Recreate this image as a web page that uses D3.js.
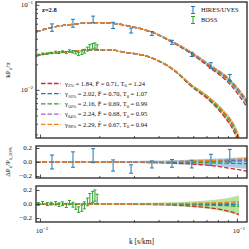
<!DOCTYPE html>
<html>
<head>
<meta charset="utf-8">
<script src="https://cdn.jsdelivr.net/npm/d3@7"></script>
<style>
  body { margin: 0; background: #fff; }
  svg text { font-family: "Liberation Serif", "DejaVu Serif", serif; fill: #111; }
</style>
</head>
<body>
<div id="chart"></div>
<script>
/* model curves, k in s/km */
const kHi = [0.00954, 0.01151, 0.01471, 0.01858, 0.02349, 0.02897, 0.03705, 0.04677, 0.0591, 0.07385, 0.0922, 0.1125];
const pHi = [0.0481, 0.0543, 0.0590, 0.0619, 0.0605, 0.0556, 0.0478, 0.0370, 0.0270, 0.0188, 0.0128, 0.00723];
const kLo = [0.00954, 0.01124, 0.0142, 0.01794, 0.02265, 0.02668, 0.03572, 0.04786, 0.05842, 0.0730, 0.0869, 0.0955, 0.1024];
const pLo = [0.0251, 0.0270, 0.0282, 0.0296, 0.0296, 0.0278, 0.0245, 0.0172, 0.01146, 0.00783, 0.00522, 0.00388, 0.00272];

// relative offsets of each model from the reference curve
const hiResRed    = [0, 0, 0, 0, 0, -0.003, -0.008, -0.015, -0.03, -0.05, -0.09, -0.13];
const hiResBlue   = [0, 0, 0, 0, 0, 0, 0.002, 0.005, 0.01, 0.015, 0.022, 0.03];
const hiResGreen  = [0, 0, 0, 0, 0, 0, -0.002, -0.004, -0.008, -0.012, -0.018, -0.025];
const hiResPurple = [0, 0, 0, 0, 0, 0, 0.001, 0.002, 0.004, 0.008, 0.012, 0.015];
const hiResOrange = [0, 0, 0, 0, 0, 0.002, 0.004, 0.008, 0.014, 0.022, 0.035, 0.05];
const hiBandUp = [0.005, 0.006, 0.008, 0.01, 0.012, 0.015, 0.02, 0.025, 0.035, 0.045, 0.058, 0.07];
const hiBandLo = [-0.005, -0.006, -0.008, -0.01, -0.012, -0.015, -0.02, -0.028, -0.04, -0.055, -0.075, -0.1];

const loResRed    = [0, 0, 0, 0, 0, -0.002, -0.006, -0.015, -0.03, -0.055, -0.09, -0.12, -0.15];
const loResBlue   = [0, 0, 0, 0, 0, 0, 0, -0.002, -0.004, -0.006, -0.008, -0.01, -0.012];
const loResGreen  = [0, 0, 0, 0, 0, 0, -0.002, -0.005, -0.01, -0.016, -0.024, -0.03, -0.036];
const loResPurple = [0, 0, 0, 0, 0, 0, 0.001, 0.002, 0.004, 0.006, 0.01, 0.012, 0.014];
const loResOrange = [0, 0, 0, 0, 0, 0, 0.002, 0.005, 0.01, 0.015, 0.022, 0.03, 0.035];
const loBandUp = [0.005, 0.006, 0.008, 0.01, 0.012, 0.014, 0.018, 0.025, 0.035, 0.055, 0.08, 0.1, 0.12];
const loBandLo = [-0.005, -0.006, -0.008, -0.01, -0.012, -0.014, -0.02, -0.03, -0.045, -0.07, -0.11, -0.14, -0.17];

/* data */
const hiresK = [0.0115, 0.0147, 0.0186, 0.0235, 0.029, 0.037, 0.0468, 0.059, 0.0738, 0.092];
const hiresP = [0.0543, 0.0611, 0.0675, 0.0575, 0.0500, 0.0461, 0.0363, 0.0262, 0.0194, 0.0140];
const hiresErr = [0.0054, 0.0065, 0.0062, 0.0048, 0.0033, 0.0024, 0.0020, 0.0015, 0.0015, 0.0012];
const hiresRes = [0.0, 0.035, 0.09, -0.05, -0.1, -0.035, -0.02, -0.03, 0.03, 0.09];
const hiresResErr = [0.1, 0.11, 0.1, 0.08, 0.06, 0.05, 0.055, 0.055, 0.08, 0.09];

const bossK = [0.0098, 0.0103, 0.0109, 0.0114, 0.0120, 0.0125, 0.0130, 0.0136, 0.0141, 0.0147, 0.0152, 0.0157, 0.0163, 0.0168, 0.0174, 0.0179, 0.0185, 0.0190, 0.0195];
const bossP = [0.0258, 0.0266, 0.0267, 0.0272, 0.0278, 0.0275, 0.0281, 0.0275, 0.0288, 0.0281, 0.0275, 0.0265, 0.0273, 0.0285, 0.0302, 0.0320, 0.0326, 0.0333, 0.0318];
const bossErr = [0.0005, 0.0005, 0.0005, 0.0005, 0.0007, 0.0007, 0.0007, 0.0008, 0.0008, 0.0010, 0.0010, 0.0012, 0.0013, 0.0015, 0.0016, 0.0021, 0.0024, 0.0024, 0.0021];
const bossRes = [0.0, 0.015, 0.0, 0.005, 0.01, -0.01, 0.005, -0.02, 0.02, -0.01, -0.04, -0.08, -0.06, -0.02, 0.03, 0.08, 0.1, 0.12, 0.07];
const bossResErr = [0.02, 0.02, 0.02, 0.02, 0.025, 0.025, 0.025, 0.03, 0.03, 0.035, 0.035, 0.04, 0.045, 0.05, 0.055, 0.07, 0.08, 0.08, 0.07];

/* legend */
const modelColors = ["#d62728", "#1f77b4", "#2ca02c", "#9467bd", "#ff7f0e"];
const gammaSub = ["2%", "16%", "50%", "84%", "98%"];
const gammaVal = ["1.84", "2.02", "2.16", "2.24", "2.29"];
const fbarVal = ["0.71", "0.70", "0.69", "0.68", "0.67"];
const t0Val = ["1.24", "1.07", "0.99", "0.95", "0.94"];

const hiRes = [hiResRed, hiResBlue, hiResGreen, hiResPurple, hiResOrange];
const loRes = [loResRed, loResBlue, loResGreen, loResPurple, loResOrange];

const width = 249;
const height = 249;
const left = 36;
const right = 247;
const main = { top: 2, bottom: 138 };
const r1 = { top: 146, bottom: 178 };
const r2 = { top: 186, bottom: 222 };

const blue = "#1f77b4";
const green = "#2ca02c";
const dash = "4.5,2";

const svg = d3.select("#chart")
  .append("svg")
  .attr("width", width)
  .attr("height", height);

const x = d3.scaleLog().domain([0.00954, 0.1125]).range([left, right]);
const yMain = d3.scaleLog().domain([0.00272, 0.108]).range([main.bottom, main.top]);
const yR1 = d3.scaleLinear().domain([-0.2286, 0.2286]).range([r1.bottom, r1.top]);
const yR2 = d3.scaleLinear().domain([-0.2571, 0.2571]).range([r2.bottom, r2.top]);

const defs = svg.append("defs");
[["clipMain", main], ["clipR1", r1], ["clipR2", r2]].forEach(([id, p]) => {
  defs.append("clipPath").attr("id", id)
    .append("rect")
    .attr("x", left).attr("y", p.top)
    .attr("width", right - left).attr("height", p.bottom - p.top);
});

const gMain = svg.append("g").attr("clip-path", "url(#clipMain)");
const gR1 = svg.append("g").attr("clip-path", "url(#clipR1)");
const gR2 = svg.append("g").attr("clip-path", "url(#clipR2)");

const idx = arr => arr.map((d, i) => i);

// bands
function band(g, ks, ys, up, lo, color, base) {
  const area = d3.area()
    .x(i => x(ks[i]))
    .y0(i => ys(base ? base[i] * (1 + lo[i]) : lo[i]))
    .y1(i => ys(base ? base[i] * (1 + up[i]) : up[i]))
    .curve(d3.curveMonotoneX);
  g.append("path")
    .datum(idx(ks))
    .attr("d", area)
    .attr("fill", color)
    .attr("stroke", "none");
}
band(gMain, kHi, yMain, hiBandUp, hiBandLo, "#a9cde8", pHi);
band(gMain, kLo, yMain, loBandUp, loBandLo, "#b5e29e", pLo);
band(gR1, kHi, yR1, hiBandUp, hiBandLo, "#a9cde8", null);
band(gR2, kLo, yR2, loBandUp, loBandLo, "#b5e29e", null);

// model lines
function models(g, ks, ys, resSet, base) {
  resSet.forEach((res, m) => {
    const line = d3.line()
      .x(i => x(ks[i]))
      .y(i => ys(base ? base[i] * (1 + res[i]) : res[i]))
      .curve(d3.curveMonotoneX);
    g.append("path")
      .datum(idx(ks))
      .attr("d", line)
      .attr("fill", "none")
      .attr("stroke", modelColors[m])
      .attr("stroke-width", 1.3)
      .attr("stroke-dasharray", dash);
  });
}
models(gMain, kHi, yMain, hiRes, pHi);
models(gMain, kLo, yMain, loRes, pLo);
models(gR1, kHi, yR1, hiRes, null);
models(gR2, kLo, yR2, loRes, null);

// error bars
function errorbars(g, ks, vals, errs, ys, color, cap) {
  const pts = g.append("g").attr("stroke", color).attr("stroke-width", 1).attr("fill", "none");
  ks.forEach((k, i) => {
    const cx = x(k);
    const y0 = ys(vals[i] - errs[i]);
    const y1 = ys(vals[i] + errs[i]);
    pts.append("line").attr("x1", cx).attr("x2", cx).attr("y1", y0).attr("y2", y1);
    pts.append("line").attr("x1", cx - cap).attr("x2", cx + cap).attr("y1", y0).attr("y2", y0);
    pts.append("line").attr("x1", cx - cap).attr("x2", cx + cap).attr("y1", y1).attr("y2", y1);
  });
}
errorbars(gMain, bossK, bossP, bossErr, yMain, green, 1.5);
errorbars(gMain, hiresK, hiresP, hiresErr, yMain, blue, 2);
errorbars(gR1, hiresK, hiresRes, hiresResErr, yR1, blue, 2);
errorbars(gR2, bossK, bossRes, bossResErr, yR2, green, 1.5);

// axes, ticks point inward
const minorX = [0.02, 0.03, 0.04, 0.05, 0.06, 0.07, 0.08, 0.09];
function xTicks(p) {
  svg.append("g")
    .attr("transform", `translate(0,${p.bottom})`)
    .call(d3.axisBottom(x).tickValues([0.01, 0.1]).tickSize(-3.5).tickFormat(""))
    .call(g => g.select(".domain").remove());
  svg.append("g")
    .attr("transform", `translate(0,${p.bottom})`)
    .call(d3.axisBottom(x).tickValues(minorX).tickSize(-2).tickFormat(""))
    .call(g => g.select(".domain").remove());
}
[main, r1, r2].forEach(xTicks);

const minorY = [0.003, 0.004, 0.005, 0.006, 0.007, 0.008, 0.009, 0.02, 0.03, 0.04, 0.05, 0.06, 0.07, 0.08, 0.09];
svg.append("g")
  .attr("transform", `translate(${left},0)`)
  .call(d3.axisLeft(yMain).tickValues([0.01, 0.1]).tickSize(-3.5).tickFormat(""))
  .call(g => g.select(".domain").remove());
svg.append("g")
  .attr("transform", `translate(${left},0)`)
  .call(d3.axisLeft(yMain).tickValues(minorY).tickSize(-2).tickFormat(""))
  .call(g => g.select(".domain").remove());
[yR1, yR2].forEach(ys => {
  svg.append("g")
    .attr("transform", `translate(${left},0)`)
    .call(d3.axisLeft(ys).tickValues([-0.2, 0, 0.2]).tickSize(-3.5).tickFormat(""))
    .call(g => g.select(".domain").remove());
});
svg.selectAll(".tick line").attr("stroke", "#222").attr("stroke-width", 0.8);

// frames
[main, r1, r2].forEach(p => {
  svg.append("rect")
    .attr("x", left).attr("y", p.top)
    .attr("width", right - left).attr("height", p.bottom - p.top)
    .attr("fill", "none")
    .attr("stroke", "#333")
    .attr("stroke-width", 1.4);
});

// tick labels
function powLabel(px, py, exp, anchor) {
  const t = svg.append("text")
    .attr("x", px).attr("y", py)
    .attr("text-anchor", anchor)
    .attr("font-size", 7);
  t.append("tspan").text("10");
  t.append("tspan").attr("dy", -3).attr("font-size", 5).text(exp);
}
powLabel(33, yMain(0.1) + 2.5, "−1", "end");
powLabel(33, yMain(0.01) + 2.5, "−2", "end");
powLabel(x(0.01) + 2, 233, "−2", "middle");
powLabel(x(0.1) + 2, 233, "−1", "middle");

const resTicks = [0.2, 0, -0.2];
const resTickText = ["0.2", "0.0", "−0.2"];
[yR1, yR2].forEach(ys => {
  resTicks.forEach((v, i) => {
    svg.append("text")
      .attr("x", 32).attr("y", ys(v) + 2.4)
      .attr("text-anchor", "end")
      .attr("font-size", 7)
      .text(resTickText[i]);
  });
});

// axis titles
const yl = svg.append("text")
  .attr("transform", `translate(10,${(main.top + main.bottom) / 2}) rotate(-90)`)
  .attr("text-anchor", "middle")
  .attr("font-size", 7);
yl.append("tspan").text("kP");
yl.append("tspan").attr("dy", 1.5).attr("font-size", 5).text("k");
yl.append("tspan").attr("dy", -1.5).text("/π");

const yl2 = svg.append("text")
  .attr("transform", `translate(10,${(r1.top + r1.bottom) / 2}) rotate(-90)`)
  .attr("text-anchor", "middle")
  .attr("font-size", 7);
yl2.append("tspan").text("ΔP");
yl2.append("tspan").attr("dy", 1.5).attr("font-size", 5).text("k");
yl2.append("tspan").attr("dy", -1.5).text("/P");
yl2.append("tspan").attr("dy", 1.5).attr("font-size", 5).text("k,50%");

svg.append("text")
  .attr("x", (left + right) / 2).attr("y", 244)
  .attr("text-anchor", "middle")
  .attr("font-size", 7.5)
  .text("k [s/km]");

svg.append("text")
  .attr("x", 42).attr("y", 12)
  .attr("font-size", 6.5)
  .attr("font-weight", "bold")
  .text("z=2.8");

// model legend
gammaSub.forEach((s, i) => {
  const ly = 83.5 + i * 10.2;
  svg.append("line")
    .attr("x1", 41).attr("x2", 61)
    .attr("y1", ly).attr("y2", ly)
    .attr("stroke", modelColors[i])
    .attr("stroke-width", 1.3)
    .attr("stroke-dasharray", dash);
  const t = svg.append("text")
    .attr("x", 65).attr("y", ly + 2.3)
    .attr("font-size", 6.5);
  t.append("tspan").text("γ");
  t.append("tspan").attr("dy", 1.5).attr("font-size", 4.5).text(s);
  t.append("tspan").attr("dy", -1.5).text(` = ${gammaVal[i]}, F\u0304 = ${fbarVal[i]}, T`);
  t.append("tspan").attr("dy", 1.5).attr("font-size", 4.5).text("0");
  t.append("tspan").attr("dy", -1.5).text(` = ${t0Val[i]}`);
});

// data legend
const dataLegend = [["HIRES/UVES", blue, 10], ["BOSS", green, 20]];
dataLegend.forEach(([name, color, ly]) => {
  const g = svg.append("g").attr("stroke", color).attr("stroke-width", 1);
  g.append("line").attr("x1", 193).attr("x2", 193).attr("y1", ly - 3.5).attr("y2", ly + 3.5);
  g.append("line").attr("x1", 191).attr("x2", 195).attr("y1", ly - 3.5).attr("y2", ly - 3.5);
  g.append("line").attr("x1", 191).attr("x2", 195).attr("y1", ly + 3.5).attr("y2", ly + 3.5);
  svg.append("text")
    .attr("x", 201).attr("y", ly + 2.3)
    .attr("font-size", 6.5)
    .text(name);
});
</script>
</body>
</html>
